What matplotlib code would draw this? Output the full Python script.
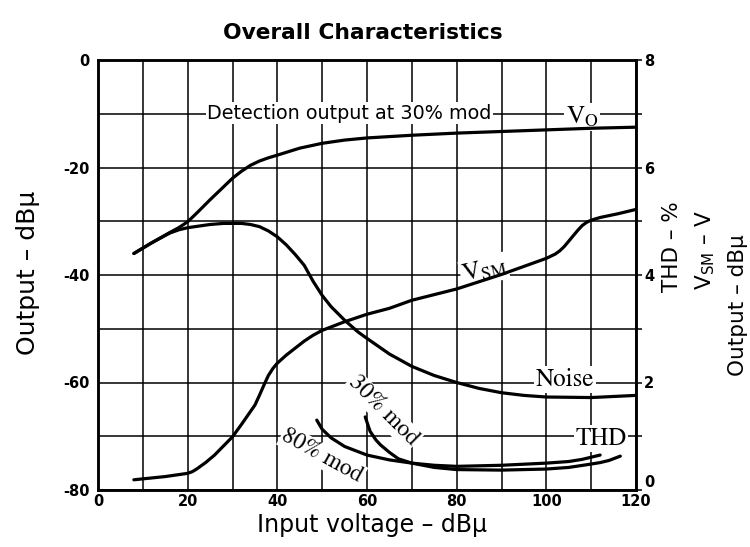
import matplotlib
matplotlib.use("Agg")
import matplotlib.pyplot as plt

# ---------------- data ----------------
X_TICKS = [0, 20, 40, 60, 80, 100, 120]
X_TICK_LABELS = ["0", "20", "40", "60", "80", "100", "120"]
Y_TICKS = [0, -20, -40, -60, -80]
Y_TICK_LABELS = ["0", "-20", "-40", "-60", "-80"]
R_TICKS = [0, 2, 4, 6, 8]
R_TICK_LABELS = ["0", "2", "4", "6", "8"]

# Detection output Vo (dBu, left axis)
vo_x = [8, 12, 16, 18, 20, 22, 25, 28, 30, 32, 34, 36, 38, 40, 45, 50, 55, 60,
        70, 80, 90, 100, 110, 120]
vo_y = [-36.0, -34.0, -32.1, -31.2, -30.1, -28.5, -26.0, -23.6, -22.0, -20.7,
        -19.6, -18.8, -18.2, -17.7, -16.4, -15.5, -14.9, -14.5, -14.0, -13.6,
        -13.3, -13.0, -12.7, -12.5]

# Noise (dBu, left axis)
noise_x = [8, 12, 16, 18, 20, 25, 28, 32, 34, 36, 38, 40, 42, 44, 46, 48, 50,
           52, 55, 58, 60, 65, 70, 75, 80, 85, 90, 95, 100, 110, 120]
noise_y = [-36.0, -34.0, -32.2, -31.6, -31.2, -30.6, -30.4, -30.4, -30.6, -31.0,
           -31.8, -32.9, -34.4, -36.2, -38.2, -41.2, -43.8, -45.9, -48.4, -50.6,
           -51.8, -54.7, -57.0, -58.7, -60.0, -61.1, -61.9, -62.4, -62.7, -62.8,
           -62.4]

# VSM (V, right axis)
vsm_x = [8, 15, 20, 21, 22, 24, 26, 28, 30, 32, 34, 35, 36, 37, 38, 39, 40, 42,
         44, 46, 48, 50, 55, 60, 65, 70, 80, 90, 100, 102, 103, 104, 105, 106,
         107, 108, 109, 110, 112, 116, 120]
vsm_v = [0.19, 0.25, 0.31, 0.34, 0.39, 0.51, 0.65, 0.82, 0.99, 1.22, 1.46, 1.58,
         1.76, 1.95, 2.13, 2.26, 2.36, 2.51, 2.64, 2.77, 2.88, 2.97, 3.13, 3.27,
         3.38, 3.53, 3.74, 4.01, 4.31, 4.39, 4.45, 4.53, 4.63, 4.73, 4.83, 4.92,
         4.98, 5.02, 5.07, 5.14, 5.22]

# THD (% , right axis)
thd80_x = [48.8, 50, 52, 55, 60, 65, 70, 75, 80, 90, 100, 105, 108, 110, 112]
thd80 = [1.30, 1.13, 0.97, 0.81, 0.65, 0.56, 0.50, 0.46, 0.44, 0.46, 0.50, 0.53,
         0.57, 0.61, 0.65]
thd30_x = [59.6, 60.7, 62, 63, 65, 67, 70, 75, 80, 90, 100, 105, 109, 112, 114, 116.5]
thd30 = [1.36, 1.09, 0.93, 0.84, 0.70, 0.58, 0.50, 0.42, 0.38, 0.37, 0.39, 0.42,
         0.47, 0.51, 0.55, 0.63]

# ---------------- figure ----------------
plt.rcParams["mathtext.fontset"] = "stix"
SANS = "DejaVu Sans"
SERIF = "STIXGeneral"

fig = plt.figure(figsize=(7.5, 5.47), dpi=100)
ax = fig.add_axes([98 / 750, 57 / 547, 538 / 750, 430 / 547])
ax.set_xlim(0, 120)
ax.set_ylim(-80, 0)

ax.set_xticks(X_TICKS)
ax.set_xticklabels(X_TICK_LABELS)
ax.set_xticks(range(0, 121, 10), minor=True)
ax.set_yticks(Y_TICKS)
ax.set_yticklabels(Y_TICK_LABELS)
ax.set_yticks(range(-80, 1, 10), minor=True)
ax.grid(which="both", color="black", lw=1.1, zorder=0)
ax.tick_params(which="both", length=0)
ax.tick_params(axis="x", pad=3)
ax.tick_params(axis="y", pad=6)
for lab in ax.get_xticklabels() + ax.get_yticklabels():
    lab.set_fontfamily(SANS)
    lab.set_fontweight("bold")
    lab.set_fontsize(10.5)
for sp in ax.spines.values():
    sp.set_linewidth(1.8)

ax2 = ax.twinx()
ax2.set_ylim(0, 8)
ax2.set_yticks(R_TICKS)
ax2.set_yticklabels(R_TICK_LABELS)
ax2.set_yticks(range(0, 9), minor=True)
ax2.tick_params(which="both", direction="out", length=4, width=1.1, pad=2)
r_labels = ax2.get_yticklabels()
for lab in r_labels:
    lab.set_fontfamily(SANS)
    lab.set_fontweight("bold")
    lab.set_fontsize(10.5)
r_labels[0].set_va("bottom")   # lift the bottom "0" clear of the "120" x label
for sp in ax2.spines.values():
    sp.set_linewidth(1.8)

LW = 2.3
ax.plot(vo_x, vo_y, color="black", lw=LW, zorder=3, solid_capstyle="round",
        solid_joinstyle="round")
ax.plot(noise_x, noise_y, color="black", lw=LW, zorder=3, solid_capstyle="round",
        solid_joinstyle="round")
ax2.plot(vsm_x, vsm_v, color="black", lw=LW, zorder=3, solid_capstyle="round",
         solid_joinstyle="round")
ax2.plot(thd80_x, thd80, color="black", lw=LW, zorder=3, solid_capstyle="round",
         solid_joinstyle="round")
ax2.plot(thd30_x, thd30, color="black", lw=LW, zorder=3, solid_capstyle="round",
         solid_joinstyle="round")

wb = dict(facecolor="white", edgecolor="none", pad=1.0)

ax.text(56.0, -9.9, "Detection output at 30% mod", fontfamily=SANS, fontsize=13.8,
        ha="center", va="center", bbox=wb, zorder=2.5)
ax.text(108.0, -10.6, r"$\mathrm{V_O}$", fontsize=18, ha="center", va="center",
        bbox=wb, zorder=2.5)
ax.text(86.1, -39.1, r"$\mathrm{V_{SM}}$", fontsize=18, ha="center", va="center",
        rotation=13, rotation_mode="anchor", bbox=wb, zorder=2.5)
ax.text(104.2, -59.5, "Noise", fontfamily=SERIF, fontsize=18, ha="center",
        va="center", bbox=wb, zorder=2.5)
ax.text(112.2, -70.5, "THD", fontfamily=SERIF, fontsize=18, ha="center",
        va="center", bbox=wb, zorder=2.5)
ax.text(63.6, -65.3, "30% mod", fontfamily=SERIF, fontsize=17, ha="center",
        va="center", rotation=-45, rotation_mode="anchor", bbox=wb, zorder=2.5)
ax.text(50.0, -73.7, "80% mod", fontfamily=SERIF, fontsize=17, ha="center",
        va="center", rotation=-29, rotation_mode="anchor", bbox=wb, zorder=2.5)

fig.suptitle("Overall Characteristics", x=363 / 750, y=1 - 33 / 547, va="center",
             fontfamily=SANS, fontweight="bold", fontsize=15.7)

ax.set_xlabel("Input voltage – dBμ", fontfamily=SANS, fontsize=17)
ax.xaxis.label.set_va("center")
ax.xaxis.set_label_coords((372 - 98) / 538, (490 - 525) / 430)
ax.set_ylabel("Output – dBμ", fontfamily=SANS, fontsize=18)
ax.yaxis.label.set_va("center")
ax.yaxis.set_label_coords((28 - 98) / 538, (490 - 273) / 430)

fig.text(672 / 750, 1 - 247 / 547, "THD – %", rotation=90, ha="center", va="center",
         fontfamily=SANS, fontsize=15.5)
fig.text(705 / 750, 1 - 250 / 547, r"V$_{\mathregular{SM}}$ – V", rotation=90,
         ha="center", va="center", fontfamily=SANS, fontsize=15.5)
fig.text(738 / 750, 1 - 305 / 547, "Output – dBμ", rotation=90, ha="center",
         va="center", fontfamily=SANS, fontsize=15.5)

fig.savefig("out.png", dpi=100, facecolor="white")
